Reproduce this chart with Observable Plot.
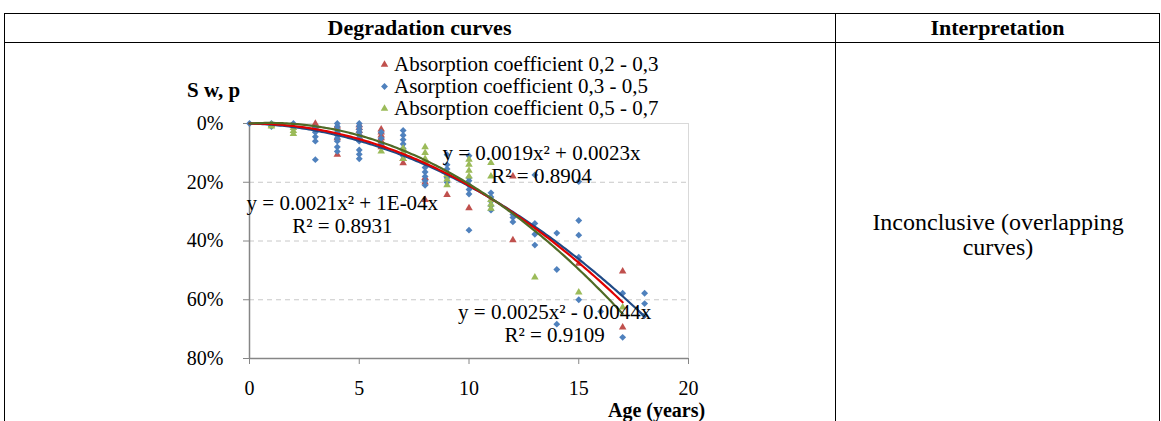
<!DOCTYPE html>
<html>
<head>
<meta charset="utf-8">
<title>Degradation curves</title>
<script src="https://cdn.jsdelivr.net/npm/d3@7"></script>
<script src="https://cdn.jsdelivr.net/npm/@observablehq/plot@0.6"></script>
<style>
  html, body { margin: 0; padding: 0; background: #fff; }
  body { position: relative; width: 1161px; height: 421px; overflow: hidden;
         font-family: "Liberation Serif", "Times New Roman", serif; color: #000; }
  .rule-h { position: absolute; height: 1px; background: #000; }
  .rule-v { position: absolute; width: 1px; background: #000; }
  .head { position: absolute; top: 13px; height: 29px; line-height: 30px; font-weight: bold;
          font-size: 22px; text-align: center; }
  #chart { position: absolute; left: 140px; top: 40px; }
  #legend { position: absolute; left: 380px; top: 53px; font-size: 21px; }
  .legend-row { display: flex; align-items: center; height: 22px; white-space: nowrap; }
  .legend-row svg { margin-right: 5px; }
  #ylabel { position: absolute; left: 187px; top: 78px; font-weight: bold; font-size: 21px; }
  #xlabel { position: absolute; left: 608px; top: 403px; font-weight: bold; font-size: 20px;
            line-height: 14px; white-space: nowrap; }
  #interp { position: absolute; left: 836px; width: 324px; top: 210px; text-align: center;
            font-size: 24px; line-height: 25px; }
</style>
</head>
<body>
<!-- table grid -->
<div class="rule-h" style="left:4px; top:13px; width:1156px"></div>
<div class="rule-h" style="left:4px; top:42px; width:1156px"></div>
<div class="rule-v" style="left:4px; top:13px; height:408px"></div>
<div class="rule-v" style="left:835px; top:13px; height:408px"></div>
<div class="rule-v" style="left:1159px; top:13px; height:408px"></div>
<div class="head" style="left:4px; width:831px">Degradation curves</div>
<div class="head" style="left:835px; width:325px">Interpretation</div>

<div id="ylabel">S w, p</div>
<div id="legend"></div>
<div id="chart"></div>
<div id="xlabel">Age (years)</div>
<div id="interp">Inconclusive (overlapping<br>curves)</div>

<script>
// Share of wall surface affected (%) by building age (years), one list per absorption class
const seriesNames = [
  "Absorption coefficient 0,2 - 0,3",
  "Asorption coefficient 0,3 - 0,5",
  "Absorption coefficient 0,5 - 0,7"
];

const lowAbsorption = [
  [3, 0], [3, 1], [4, 1], [4, 3], [4, 5], [4, 10.6],
  [5, 0.5], [5, 1.5], [5, 2.5], [5, 3.5], [5, 4.5],
  [6, 2], [6, 3], [6, 4], [6, 5], [6, 6], [6, 7], [6, 8],
  [7, 12], [7, 13.5], [8, 18.5], [8, 20], [8, 26], [9, 24.3], [10, 28.8],
  [12, 18], [12, 39.7], [15, 47.7], [17, 50.3], [17, 69.4]
];

const midAbsorption = [
  [0, 0], [1, 0], [1, 1], [2, 0],
  [3, 1.5], [3, 3], [3, 4.5], [3, 6], [3, 12.3],
  [4, 0], [4, 1], [4, 2], [4, 3], [4, 4], [4, 5], [4, 6], [4, 8], [4, 9.5],
  [5, 0], [5, 1], [5, 2], [5, 3], [5, 4], [5, 5], [5, 6], [5, 9], [5, 10.5], [5, 12],
  [6, 3], [6, 5], [6, 7],
  [7, 2.4], [7, 4], [7, 5.5], [7, 7], [7, 8.5], [7, 10], [7, 11],
  [8, 15], [8, 16.5], [8, 18], [8, 19.5], [8, 21],
  [9, 10.6], [9, 14], [9, 15.5], [9, 17], [9, 18.5], [9, 20],
  [10, 11], [10, 18.5], [10, 19.5], [10, 21], [10, 22.5], [10, 24], [10, 36.3],
  [11, 23.6], [11, 25], [11, 26.5], [11, 28], [11, 29.5],
  [12, 31], [12, 32], [12, 33.5],
  [13, 17.5], [13, 34], [13, 37.7], [13, 41.4],
  [14, 37.3], [14, 49.7], [14, 68.3],
  [15, 19.8], [15, 33], [15, 38], [15, 45.5], [15, 60],
  [16, 64], [17, 57.8], [17, 72.8], [18, 57.8], [18, 61.3], [18, 65.4]
];

const highAbsorption = [
  [1, 0.5], [1, 1], [2, 1.5], [2, 2.5], [2, 3.5],
  [6, 9.5], [7, 8.5], [7, 10], [7, 12],
  [8, 8], [8, 10], [8, 12], [8, 13],
  [9, 17.5], [9, 19], [9, 21],
  [10, 12.3], [10, 14], [10, 16], [10, 18],
  [11, 13.4], [11, 18], [11, 26], [11, 27.5], [11, 29],
  [13, 52.4], [15, 57.5], [17, 62.6]
];

// Polynomial trendlines (share as a fraction, y = a·x² + b·x) and their printed labels
const trendCoefficients = [[0.0021, 0.0001], [0.0019, 0.0023], [0.0025, -0.0044]];
const trendEquations = ["y = 0.0021x² + 1E-04x", "y = 0.0019x² + 0.0023x", "y = 0.0025x² - 0.0044x"];
const trendR2 = ["R² = 0.8931", "R² = 0.8904", "R² = 0.9109"];

const ageTicks = [0, 5, 10, 15, 20];
const shareTicks = [0, 20, 40, 60, 80];

// Styling
const pointColors = ["#C0504D", "#4F81BD", "#9BBB59"];
const pointSymbols = ["triangle", "diamond2", "triangle"];
const pointRadius = [2.8, 3.1, 2.8];
const trendColors = ["#E00000", "#1F4A86", "#4F6A26"];
// Where each equation label sits, in (age, share %) units
const equationAnchors = [[4.23, 27.2], [13.3, 10.3], [13.9, 64.2]];

const seriesData = [lowAbsorption, midAbsorption, highAbsorption];

const trendCurves = trendCoefficients.map(([a, b], i) => {
  const maxAge = d3.max(seriesData[i], d => d[0]);
  return d3.range(0, maxAge + 1e-9, 0.1).map(x => ({age: x, share: 100 * (a * x * x + b * x)}));
});

const dotMarks = seriesData.map((rows, i) =>
  Plot.dot(rows, {x: d => d[0], y: d => d[1], symbol: pointSymbols[i], fill: pointColors[i], r: pointRadius[i]})
);
const lineMarks = [1, 0, 2].map(i =>
  Plot.line(trendCurves[i], {x: "age", y: "share", stroke: trendColors[i], strokeWidth: 2.2})
);
const labelMarks = equationAnchors.flatMap(([age, share], i) => [
  Plot.text([trendEquations[i]], {x: () => age, y: () => share, text: d => d, fontSize: 21, fill: "#000"}),
  Plot.text([trendR2[i]], {x: () => age, y: () => share, text: d => d, dy: 23, fontSize: 21, fill: "#000"})
]);

const chart = Plot.plot({
  width: 580,
  height: 381,
  marginLeft: 109,
  marginTop: 83,
  marginRight: 32,
  marginBottom: 63,
  style: {fontFamily: "'Liberation Serif', 'Times New Roman', serif", fontSize: "20px", color: "#000", background: "transparent", overflow: "visible"},
  x: {domain: [0, 20]},
  y: {domain: [0, 80], reverse: true},
  marks: [
    Plot.frame({stroke: "#d9d9d9"}),
    Plot.gridY(shareTicks.slice(1, -1), {stroke: "#c8c8c8", strokeOpacity: 1, strokeDasharray: "5,4"}),
    Plot.axisY(shareTicks, {tickSize: 6, tickPadding: 20, tickFormat: d => d + "%", stroke: "#868686", fill: "#000", fontSize: 20, label: null}),
    Plot.axisX(ageTicks, {tickSize: 6, tickPadding: 16, stroke: "#868686", fill: "#000", fontSize: 20, label: null}),
    Plot.ruleX([0], {stroke: "#868686", strokeWidth: 1.5}),
    Plot.ruleY([80], {stroke: "#868686", strokeWidth: 1.5}),
    ...dotMarks,
    ...lineMarks,
    ...labelMarks
  ]
});
document.getElementById("chart").append(chart);

// Legend: one row per series with its marker
const legend = d3.select("#legend");
seriesNames.forEach((name, i) => {
  const row = legend.append("div").attr("class", "legend-row");
  const svg = row.append("svg").attr("width", 9).attr("height", 9).attr("viewBox", "-4.5 -4.5 9 9");
  const sym = pointSymbols[i] === "triangle" ? d3.symbolTriangle : d3.symbolDiamond2;
  svg.append("path").attr("d", d3.symbol(sym, pointRadius[i] * pointRadius[i] * Math.PI)()).attr("fill", pointColors[i]);
  row.append("span").text(name);
});
</script>
</body>
</html>
